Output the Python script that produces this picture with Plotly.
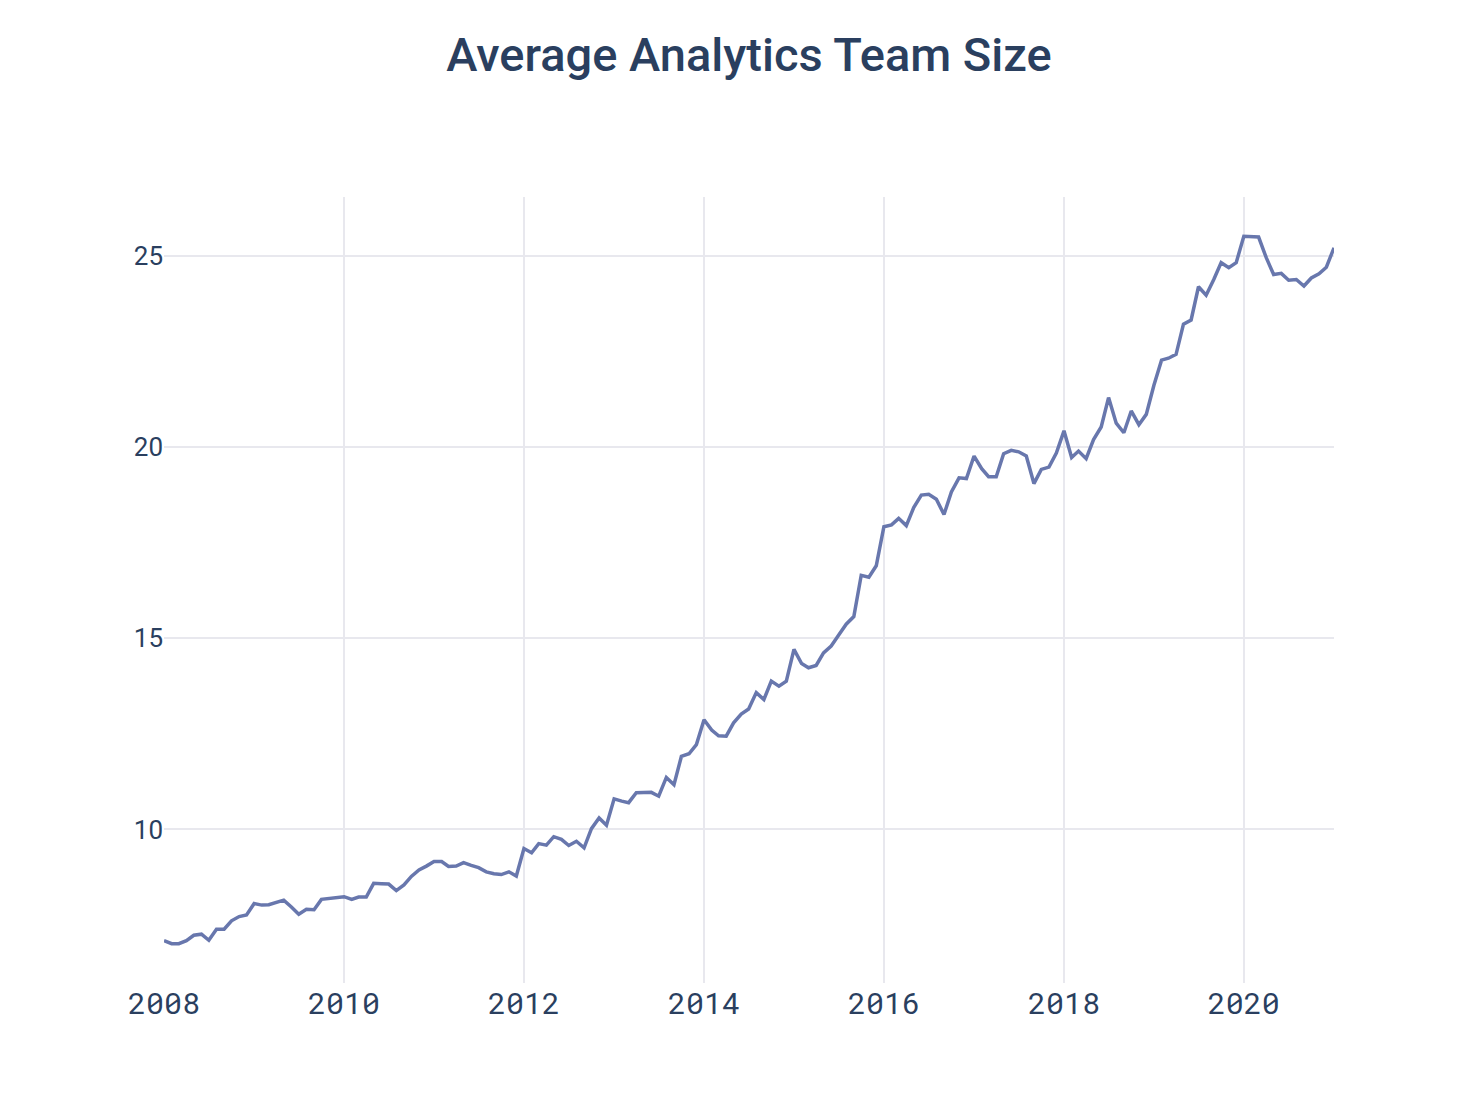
import plotly.graph_objects as go
import pandas as pd

start_month = "2008-01-01"
team_size = [
    7.09, 7.01, 7.01, 7.09, 7.23, 7.26, 7.10, 7.39, 7.39, 7.61, 7.72, 7.76,
    8.06, 8.02, 8.03, 8.09, 8.15, 7.97, 7.78, 7.91, 7.90, 8.17, 8.20, 8.22,
    8.24, 8.17, 8.23, 8.23, 8.59, 8.58, 8.57, 8.40, 8.55, 8.77, 8.94, 9.04,
    9.16, 9.16, 9.03, 9.04, 9.13, 9.06, 9.00, 8.89, 8.84, 8.82, 8.89, 8.78,
    9.50, 9.39, 9.63, 9.59, 9.81, 9.74, 9.58, 9.69, 9.52, 10.02, 10.30, 10.11,
    10.80, 10.74, 10.70, 10.96, 10.96, 10.97, 10.87, 11.36, 11.17, 11.91, 11.98, 12.22,
    12.87, 12.60, 12.45, 12.44, 12.79, 13.02, 13.15, 13.58, 13.40, 13.88, 13.75, 13.88,
    14.71, 14.34, 14.23, 14.29, 14.62, 14.80, 15.08, 15.37, 15.57, 16.65, 16.60, 16.90,
    17.92, 17.97, 18.14, 17.95, 18.42, 18.75, 18.77, 18.64, 18.24, 18.83, 19.20, 19.18,
    19.77, 19.44, 19.23, 19.23, 19.83, 19.92, 19.88, 19.77, 19.05, 19.42, 19.48, 19.85,
    20.43, 19.73, 19.90, 19.70, 20.20, 20.53, 21.30, 20.63, 20.38, 20.95, 20.59, 20.86,
    21.62, 22.28, 22.33, 22.43, 23.22, 23.33, 24.20, 23.98, 24.39, 24.83, 24.70, 24.83,
    25.52, 25.50, 25.50, 24.96, 24.52, 24.55, 24.37, 24.39, 24.22, 24.43, 24.54, 24.71,
    25.22,
]
months = pd.date_range(start_month, periods=len(team_size), freq="MS")
title_text = "Average Analytics Team Size"

fig = go.Figure()
fig.add_trace(go.Scatter(
    x=months, y=team_size, mode="lines",
    line=dict(color="#6877ad", width=3.5),
    showlegend=False,
))

fig.update_layout(
    width=1477, height=1099,
    margin=dict(l=156, r=151, t=189, b=124),
    paper_bgcolor="white", plot_bgcolor="white",
    title=dict(text=title_text, x=0.5, xref="paper", xanchor="center",
               y=0.958, yanchor="middle",
               font=dict(family="Roboto", size=47, weight=500, color="#2a3f5f")),
    font=dict(family="Roboto", color="#2a3f5f"),
)
fig.update_xaxes(
    showgrid=True, gridcolor="#e8e8ee", gridwidth=2, zeroline=False,
    showline=False, dtick="M24", tickformat="%Y",
    tickfont=dict(family="Roboto Mono, DejaVu Sans Mono, monospace", size=30, color="#2a3f5f"),
)
fig.update_yaxes(
    showgrid=True, gridcolor="#e8e8ee", gridwidth=2, zeroline=False,
    showline=False, dtick=5,
    tickfont=dict(family="Roboto", size=26, color="#2a3f5f"),
)

fig.write_html("out.html")
